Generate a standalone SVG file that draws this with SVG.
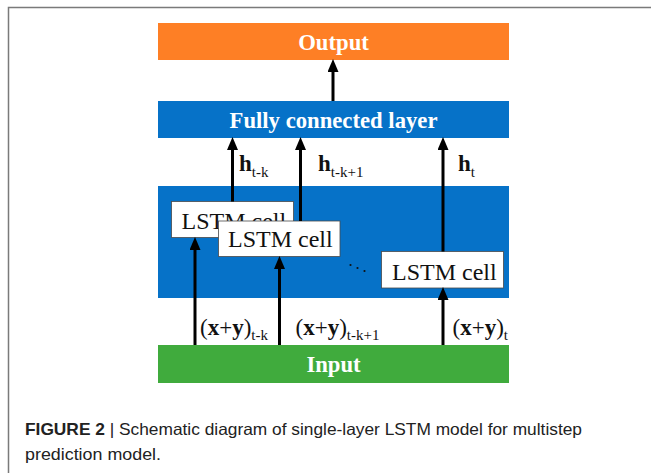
<svg xmlns="http://www.w3.org/2000/svg" width="651" height="473" viewBox="0 0 651 473">
  <style>
    .band-text { font-family: "Liberation Serif", "Times New Roman", serif; font-weight: bold; font-size: 22.7px; fill: #ffffff; text-anchor: middle; }
    .cell rect { fill: #ffffff; stroke: #4a4a4a; stroke-width: 0.8; }
    .cell text { font-family: "Liberation Serif", "Times New Roman", serif; font-size: 24px; fill: #111111; }
    .lbl { font-family: "Liberation Serif", "Times New Roman", serif; font-size: 23px; fill: #111111; }
    .lbl .b { font-weight: bold; }
    .lbl .sub { font-size: 15px; }
    .conn line { stroke: #000000; stroke-width: 3; marker-end: url(#head); }
    .caption { font-family: "Liberation Sans", Arial, sans-serif; font-size: 16.5px; fill: #222222; }
  </style>
  <defs>
    <marker id="head" markerUnits="userSpaceOnUse" markerWidth="13" markerHeight="11" refX="4" refY="5.5" orient="auto">
      <path d="M0,0 L13,5.5 L0,11 z" fill="#000000"/>
    </marker>
  </defs>

  <rect width="651" height="473" fill="#ffffff"/>
  <!-- page frame -->
  <path d="M8.5,473 V7.5 H651" fill="none" stroke="#7a7a7a" stroke-width="1.5"/>

  <!-- bands -->
  <g id="output">
    <rect x="158" y="23" width="351" height="37" fill="#fe7f25"/>
    <text class="band-text" x="333.5" y="49.5">Output</text>
  </g>
  <g id="fully-connected">
    <rect x="158" y="101" width="351" height="37" fill="#0672c8"/>
    <text class="band-text" x="333.5" y="127.5">Fully connected layer</text>
  </g>
  <g id="lstm-layer">
    <rect x="158" y="186" width="351" height="112" fill="#0672c8"/>
  </g>
  <g id="input">
    <rect x="158" y="345" width="351" height="38" fill="#40ab3d"/>
    <text class="band-text" x="333.5" y="371.5">Input</text>
  </g>

  <!-- LSTM cells (the second one sits on top of the first) -->
  <g id="cell-1" class="cell">
    <rect x="171.5" y="201.5" width="122" height="36"/>
    <text x="181.5" y="228.5">LSTM cell</text>
  </g>
  <g id="cell-2" class="cell">
    <rect x="218.5" y="221" width="121.5" height="35.5"/>
    <text x="228" y="246.5">LSTM cell</text>
  </g>
  <g id="cell-3" class="cell">
    <rect x="381.5" y="251.5" width="122" height="36.5"/>
    <text x="392" y="279.5">LSTM cell</text>
  </g>

  <!-- ellipsis between cells -->
  <g id="ellipsis" fill="#111111">
    <circle cx="350.5" cy="265" r="1.1"/>
    <circle cx="357.5" cy="268" r="1.1"/>
    <circle cx="364.5" cy="271" r="1.1"/>
  </g>

  <!-- connectors -->
  <g id="connectors" class="conn">
    <line x1="333" y1="101" x2="333" y2="68"/>
    <line x1="232.5" y1="201.5" x2="232.5" y2="146"/>
    <line x1="300.5" y1="221" x2="300.5" y2="146"/>
    <line x1="443" y1="251.5" x2="443" y2="146"/>
    <line x1="195" y1="345" x2="195" y2="246"/>
    <line x1="279.5" y1="345" x2="279.5" y2="265"/>
    <line x1="443" y1="345" x2="443" y2="296"/>
  </g>

  <!-- hidden-state labels -->
  <g id="labels-h">
    <text class="lbl" x="239" y="171"><tspan class="b">h</tspan><tspan class="sub" dy="5.5">t-k</tspan></text>
    <text class="lbl" x="318" y="171"><tspan class="b">h</tspan><tspan class="sub" dy="5.5">t-k+1</tspan></text>
    <text class="lbl" x="458" y="171"><tspan class="b">h</tspan><tspan class="sub" dy="5.5">t</tspan></text>
  </g>

  <!-- input labels -->
  <g id="labels-x">
    <text class="lbl" x="200" y="335">(<tspan class="b">x</tspan>+<tspan class="b">y</tspan>)<tspan class="sub" dy="5">t-k</tspan></text>
    <text class="lbl" x="295.5" y="335">(<tspan class="b">x</tspan>+<tspan class="b">y</tspan>)<tspan class="sub" dy="5">t-k+1</tspan></text>
    <text class="lbl" x="452.5" y="335">(<tspan class="b">x</tspan>+<tspan class="b">y</tspan>)<tspan class="sub" dy="5">t</tspan></text>
  </g>

  <!-- caption -->
  <text class="caption" x="25" y="435" textLength="557" lengthAdjust="spacingAndGlyphs"><tspan font-weight="bold">FIGURE 2</tspan> | Schematic diagram of single-layer LSTM model for multistep</text>
  <text class="caption" x="25" y="460" textLength="136" lengthAdjust="spacingAndGlyphs">prediction model.</text>
</svg>
